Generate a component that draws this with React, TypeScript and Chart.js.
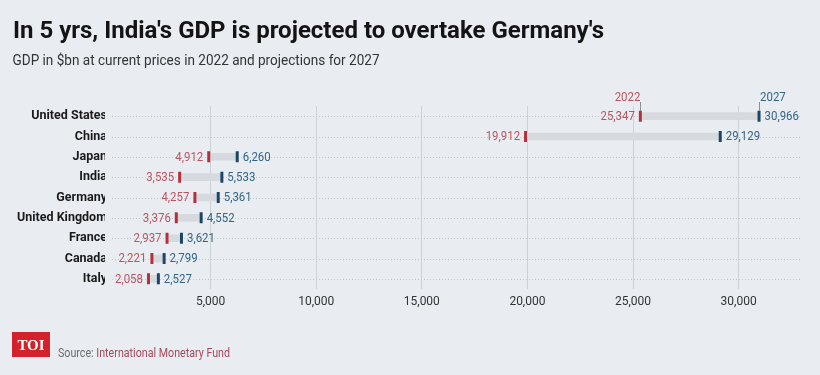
import React, { useEffect, useRef } from 'react';
import { Chart, registerables } from 'chart.js';

Chart.register(...registerables);

const countries = ['United States', 'China', 'Japan', 'India', 'Germany', 'United Kingdom', 'France', 'Canada', 'Italy'];
const gdp2022 = [25347, 19912, 4912, 3535, 4257, 3376, 2937, 2221, 2058];
const gdp2027 = [30966, 29129, 6260, 5533, 5361, 4552, 3621, 2799, 2527];
const xTickValues = [5000, 10000, 15000, 20000, 25000, 30000];
const yearLabels = ['2022', '2027'];

const TITLE = "In 5 yrs, India's GDP is projected to overtake Germany's";
const SUBTITLE = 'GDP in $bn at current prices in 2022 and projections for 2027';
const SOURCE_LABEL = 'Source: ';
const SOURCE_NAME = 'International Monetary Fund';

const BG = '#e9edf2';
const RED = '#b3313d';
const BLUE = '#1d4666';
const RED_TEXT = '#bb5660';
const BLUE_TEXT = '#336586';
const BAND = '#d6dade';

const fmt = (v: number) => v.toLocaleString('en-US');

function drawText(ctx: CanvasRenderingContext2D, text: string, x: number, y: number, font: string, color: string, align: CanvasTextAlign, sx: number, baseline: CanvasTextBaseline = 'alphabetic') {
  ctx.save();
  ctx.font = font;
  ctx.fillStyle = color;
  ctx.textAlign = align;
  ctx.textBaseline = baseline;
  ctx.translate(x, y);
  ctx.scale(sx, 1);
  ctx.fillText(text, 0, 0);
  ctx.restore();
}

function fitScale(ctx: CanvasRenderingContext2D, text: string, font: string, target: number) {
  ctx.save();
  ctx.font = font;
  const w = ctx.measureText(text).width;
  ctx.restore();
  return target / w;
}

const decor = {
  id: 'decor',
  beforeDatasetsDraw(chart: any) {
    const { ctx, scales, chartArea } = chart;
    const y = scales.y;
    ctx.save();
    ctx.strokeStyle = '#c2c7cd';
    ctx.lineWidth = 1;
    ctx.setLineDash([1, 2]);
    countries.forEach((_, i) => {
      const py = Math.round(y.getPixelForValue(i)) + 0.5;
      ctx.beginPath();
      ctx.moveTo(112, py);
      ctx.lineTo(chartArea.right, py);
      ctx.stroke();
    });
    ctx.restore();
  },
  afterDraw(chart: any) {
    const { ctx, scales } = chart;
    const x = scales.x;
    const y = scales.y;

    // Title & subtitle
    const tFont = 'bold 24px Roboto';
    drawText(ctx, TITLE, 13, 37.5, tFont, '#141414', 'left', fitScale(ctx, TITLE, tFont, 591));
    const sFont = '15px Roboto';
    drawText(ctx, SUBTITLE, 12.5, 65, sFont, '#333333', 'left', fitScale(ctx, SUBTITLE, sFont, 367));

    // value labels
    const vFont = '13px Roboto';
    countries.forEach((_, i) => {
      const py = y.getPixelForValue(i) + 0.5;
      const x22 = x.getPixelForValue(gdp2022[i]);
      const x27 = x.getPixelForValue(gdp2027[i]);
      drawText(ctx, fmt(gdp2022[i]), x22 - 5.5, py, vFont, RED_TEXT, 'right', 0.88, 'middle');
      drawText(ctx, fmt(gdp2027[i]), x27 + 5.5, py, vFont, BLUE_TEXT, 'left', 0.88, 'middle');
    });

    // year headers above first row
    const hx22 = x.getPixelForValue(gdp2022[0]);
    const hx27 = x.getPixelForValue(gdp2027[0]);
    ctx.save();
    ctx.strokeStyle = '#8a8f95';
    ctx.lineWidth = 1;
    ctx.beginPath();
    ctx.moveTo(Math.round(hx22) + 0.5, 102);
    ctx.lineTo(Math.round(hx22) + 0.5, 111);
    ctx.moveTo(Math.round(hx27) + 0.5, 102);
    ctx.lineTo(Math.round(hx27) + 0.5, 111);
    ctx.stroke();
    ctx.restore();
    drawText(ctx, yearLabels[0], hx22, 101, vFont, RED_TEXT, 'right', 0.88);
    drawText(ctx, yearLabels[1], hx27 + 1, 101, vFont, BLUE_TEXT, 'left', 0.88);

    // Logo
    ctx.save();
    ctx.fillStyle = '#d3222b';
    ctx.fillRect(12, 332, 38, 25);
    ctx.restore();
    drawText(ctx, 'TOI', 31, 350, 'bold 15px "Liberation Serif"', '#ffffff', 'center', 1);

    // Source
    const srcFont = '13px Roboto';
    const full = SOURCE_LABEL + SOURCE_NAME;
    const ss = fitScale(ctx, full, srcFont, 172);
    ctx.save();
    ctx.font = srcFont;
    const lw = ctx.measureText(SOURCE_LABEL).width * ss;
    ctx.restore();
    drawText(ctx, SOURCE_LABEL, 58, 357, srcFont, '#6b6b6b', 'left', ss);
    drawText(ctx, SOURCE_NAME, 58 + lw, 357, srcFont, '#a3495a', 'left', ss);
  },
};

export default function App() {
  const ref = useRef<HTMLCanvasElement>(null);
  useEffect(() => {
    const canvas = ref.current;
    if (!canvas) return;
    const chart = new Chart(canvas, {
      type: 'bar',
      data: {
        labels: countries,
        datasets: [
          {
            type: 'line',
            label: '2022',
            data: gdp2022,
            indexAxis: 'y',
            showLine: false,
            pointStyle: 'line',
            rotation: 90,
            pointRadius: 5.5,
            pointBorderWidth: 3,
            pointBorderColor: RED,
            pointBackgroundColor: RED,
            order: 1,
          } as any,
          {
            type: 'line',
            label: '2027',
            data: gdp2027,
            indexAxis: 'y',
            showLine: false,
            pointStyle: 'line',
            rotation: 90,
            pointRadius: 5.5,
            pointBorderWidth: 3,
            pointBorderColor: BLUE,
            pointBackgroundColor: BLUE,
            order: 1,
          } as any,
          {
            type: 'bar',
            label: 'range',
            data: countries.map((_, i) => [gdp2022[i], gdp2027[i]]),
            backgroundColor: BAND,
            barThickness: 7,
            borderSkipped: false,
            order: 2,
          } as any,
        ],
      },
      options: {
        indexAxis: 'y',
        animation: false,
        responsive: false,
        devicePixelRatio: 1,
        layout: { padding: { top: 106, right: 18, bottom: 56, left: 0 } },
        plugins: {
          legend: { display: false },
          tooltip: { enabled: false },
          title: { display: false },
        },
        scales: {
          x: {
            type: 'linear',
            position: 'bottom',
            min: 0,
            max: 33000,
            afterBuildTicks: (scale: any) => {
              scale.ticks = xTickValues.map((v) => ({ value: v }));
            },
            afterFit: (scale: any) => {
              scale.height = 30;
            },
            ticks: {
              callback: (v: any) => fmt(Number(v)),
              font: { family: 'Roboto', size: 12 },
              color: '#333333',
              padding: 6,
              maxRotation: 0,
            },
            grid: { color: '#cdd2d7', lineWidth: 1, drawTicks: false },
            border: { display: false },
          },
          y: {
            type: 'category',
            position: 'left',
            afterFit: (scale: any) => {
              scale.width = 105;
            },
            ticks: {
              font: { family: 'Roboto', size: 12.5, weight: 'bold' },
              color: '#1a1a1a',
              padding: -2,
            },
            grid: { display: false, drawTicks: false },
            border: { display: false },
          },
        },
      } as any,
      plugins: [decor],
    });
    return () => chart.destroy();
  }, []);

  return (
    <div style={{ position: 'fixed', left: 0, top: 0, width: 820, height: 375, background: BG }}>
      <canvas ref={ref} width={820} height={375} style={{ display: 'block', width: 820, height: 375 }} />
    </div>
  );
}
